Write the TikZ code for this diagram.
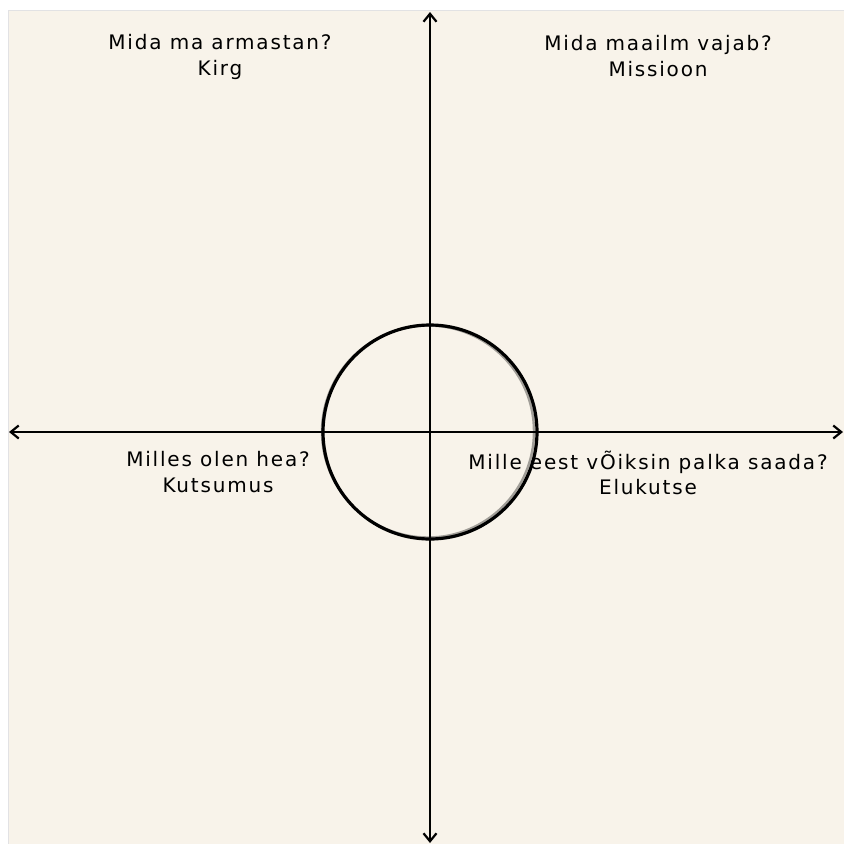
\documentclass[tikz,border=0pt]{standalone}
\usepackage{fontspec}
\setmainfont{DejaVu Sans}[LetterSpace=9]
\usetikzlibrary{arrows.meta,positioning}

\definecolor{paper}{HTML}{F8F3EA}
\definecolor{edge}{HTML}{E2E2E4}

\begin{document}
\begin{tikzpicture}[
  x=1pt, y=-1pt,
  axis/.style={draw, line width=2.8pt},
  ring/.style={circle, draw, line width=3.2pt, minimum size=214pt, inner sep=0pt},
  ringshade/.style={circle, draw, opacity=0.35, line width=2.4pt, minimum size=212pt, inner sep=0pt},
  quad/.style={align=center, inner sep=0pt, font=\fontsize{20}{25.5}\selectfont},
  >={Straight Barb[length=8pt,width=13pt,line width=2.2pt]}
]
\useasboundingbox (0,0) rectangle (844,844);
\fill[white] (0,0) rectangle (844,844);
\fill[paper] (9,11) rectangle (844,844);
\draw[edge, line width=1pt] (8.5,844) -- (8.5,10.5) -- (844,10.5);

% centre and axis ends
\coordinate (o) at (430,432);
\coordinate (top) at (430,12);
\coordinate (bottom) at (430,843);
\coordinate (left) at (9,432);
\coordinate (right) at (843,432);

\node[ring] (circ) at (o) {};
\node[ringshade, xshift=-2pt, yshift=0.5pt] (circb) at (o) {};

\draw[axis, <->] (bottom) -- (top);
\draw[axis, <->] (left) -- (right);

\node[quad] (kirg) at (220,57) {Mida ma armastan?\\Kirg};
\node[quad] (missioon) at (658,56) {Mida maailm vajab?\\Missioon};
\node[quad] (kutsumus) at (218,472) {Milles olen hea?\\Kutsumus};
\node[quad] (elukutse) at (648,473) {Mille eest vÕiksin palka saada?\\Elukutse};

\end{tikzpicture}
\end{document}
